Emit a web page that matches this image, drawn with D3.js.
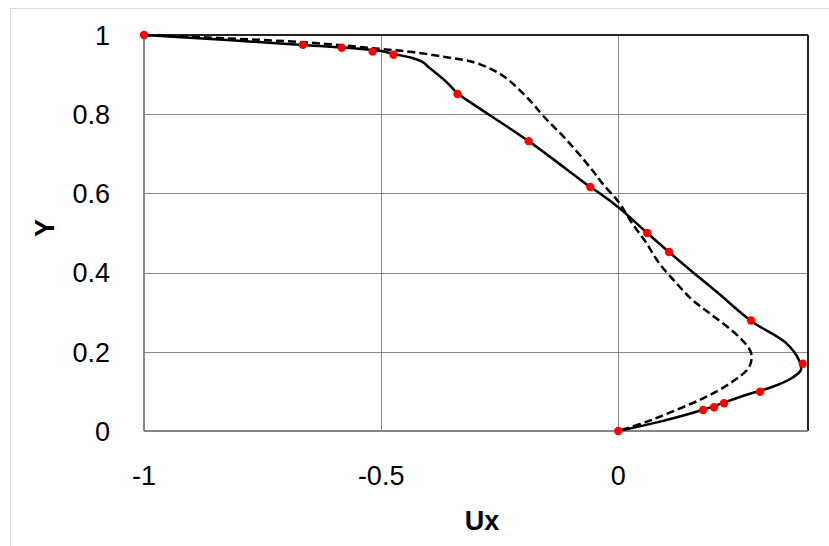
<!DOCTYPE html>
<html>
<head>
<meta charset="utf-8">
<script src="https://cdn.jsdelivr.net/npm/d3@7"></script>
<style>
  body { margin: 0; background: #fff; }
  svg { display: block; font-family: "Liberation Sans", Arial, sans-serif; }
</style>
</head>
<body>
<div class="vis-profile"></div>
<script>
// measured points (red dots)
const dotUx = [-1, -0.665, -0.583, -0.518, -0.474, -0.339, -0.189, -0.059, 0.061, 0.107, 0.280, 0.389, 0.299, 0.223, 0.202, 0.179, 0];
const dotY  = [1, 0.975, 0.968, 0.958, 0.950, 0.851, 0.732, 0.616, 0.500, 0.452, 0.279, 0.170, 0.099, 0.070, 0.060, 0.053, 0];

// solid line (simulation 1)
const solidUx = [-1, -0.665, -0.503, -0.474, -0.434, -0.413, -0.398, -0.362, -0.339, -0.307, -0.189, -0.059, -0.040, 0.002, 0.061, 0.107, 0.156, 0.208, 0.280, 0.354, 0.381, 0.385, 0.366, 0.324, 0.269, 0.177, 0.086, 0];
const solidY  = [1, 0.975, 0.960, 0.952, 0.942, 0.932, 0.917, 0.881, 0.853, 0.826, 0.732, 0.616, 0.601, 0.563, 0.500, 0.452, 0.402, 0.351, 0.278, 0.222, 0.179, 0.154, 0.134, 0.111, 0.091, 0.053, 0.023, 0];

// dashed line (simulation 2)
const dashUx = [-1, -0.666, -0.503, -0.434, -0.362, -0.307, -0.265, -0.236, -0.208, -0.181, -0.160, -0.109, -0.055, -0.034, 0.002, 0.029, 0.059, 0.086, 0.122, 0.156, 0.192, 0.255, 0.280, 0.276, 0.240, 0.185, 0.122, 0.059, 0];
const dashY  = [1, 0.982, 0.965, 0.957, 0.944, 0.932, 0.912, 0.891, 0.861, 0.828, 0.798, 0.735, 0.659, 0.626, 0.576, 0.525, 0.475, 0.424, 0.374, 0.331, 0.298, 0.237, 0.197, 0.162, 0.124, 0.086, 0.053, 0.023, 0];

const xTicks = [-1, -0.5, 0];
const yTicks = [0, 0.2, 0.4, 0.6, 0.8, 1];

const outerWidth = 829, outerHeight = 546;
const margin = {top: 35, right: 21, bottom: 115, left: 144};
const width = outerWidth - margin.left - margin.right;
const height = outerHeight - margin.top - margin.bottom;

const fmt = d => String(d);

const root = d3.select('.vis-profile')
    .append('svg')
    .attr('width', outerWidth)
    .attr('height', outerHeight);

// chart area border (only top/left visible)
root.append('rect')
    .attr('x', 10.5).attr('y', 8.5)
    .attr('width', 830).attr('height', 560)
    .attr('fill', 'none')
    .attr('stroke', '#d9d9d9');

const svg = root.append('g')
    .attr('transform', 'translate(' + margin.left + ',' + margin.top + ')');

const x = d3.scaleLinear().domain([-1, 0.4]).range([0, width]);
const y = d3.scaleLinear().domain([0, 1]).range([height, 0]);

// gridlines
svg.selectAll('.hgrid')
    .data(yTicks.filter(d => d > 0 && d < 1))
    .enter().append('line')
    .attr('x1', 0).attr('x2', width)
    .attr('y1', d => Math.round(y(d)) + 0.5).attr('y2', d => Math.round(y(d)) + 0.5)
    .attr('stroke', '#8a8a8a');

svg.selectAll('.vgrid')
    .data(xTicks.filter(d => d > -1))
    .enter().append('line')
    .attr('y1', 0).attr('y2', height)
    .attr('x1', d => Math.round(x(d)) + 0.5).attr('x2', d => Math.round(x(d)) + 0.5)
    .attr('stroke', '#8a8a8a');

// plot border: top/right dark, left/bottom gray axes
svg.append('line').attr('x1', 0).attr('x2', width).attr('y1', 0).attr('y2', 0)
    .attr('stroke', '#222').attr('stroke-width', 2);
svg.append('line').attr('x1', width).attr('x2', width).attr('y1', 0).attr('y2', height)
    .attr('stroke', '#222').attr('stroke-width', 2);
svg.append('line').attr('x1', 0).attr('x2', width).attr('y1', height).attr('y2', height)
    .attr('stroke', '#868686').attr('stroke-width', 2);
svg.append('line').attr('x1', 0).attr('x2', 0).attr('y1', 0).attr('y2', height)
    .attr('stroke', '#868686').attr('stroke-width', 2);

// tick labels
svg.selectAll('.ylab')
    .data(yTicks)
    .enter().append('text')
    .attr('x', -34)
    .attr('y', d => y(d))
    .attr('dy', '0.36em')
    .attr('text-anchor', 'end')
    .style('font-size', '27px')
    .text(fmt);

svg.selectAll('.xlab')
    .data(xTicks)
    .enter().append('text')
    .attr('x', d => x(d))
    .attr('y', height + 44)
    .attr('dy', '0.36em')
    .attr('text-anchor', 'middle')
    .style('font-size', '27px')
    .text(fmt);

// axis titles
root.append('text')
    .attr('x', 482).attr('y', 530)
    .attr('text-anchor', 'middle')
    .style('font-size', '27px').style('font-weight', 'bold')
    .text('Ux');

root.append('text')
    .attr('transform', 'translate(54,228) rotate(-90)')
    .attr('text-anchor', 'middle')
    .style('font-size', '27px').style('font-weight', 'bold')
    .text('Y');

const line = d3.line()
    .x(d => x(d[0]))
    .y(d => y(d[1]))
    .curve(d3.curveCatmullRom.alpha(0.5));

svg.append('path')
    .datum(dashUx.map((v, i) => [v, dashY[i]]))
    .attr('d', line)
    .attr('fill', 'none')
    .attr('stroke', '#000')
    .attr('stroke-width', 2.5)
    .attr('stroke-dasharray', '8,4');

svg.append('path')
    .datum(solidUx.map((v, i) => [v, solidY[i]]))
    .attr('d', line)
    .attr('fill', 'none')
    .attr('stroke', '#000')
    .attr('stroke-width', 2.5);

svg.selectAll('.dot')
    .data(dotUx.map((v, i) => [v, dotY[i]]))
    .enter().append('circle')
    .attr('cx', d => x(d[0]))
    .attr('cy', d => y(d[1]))
    .attr('r', 4.2)
    .attr('fill', '#ff0000');
</script>
</body>
</html>
